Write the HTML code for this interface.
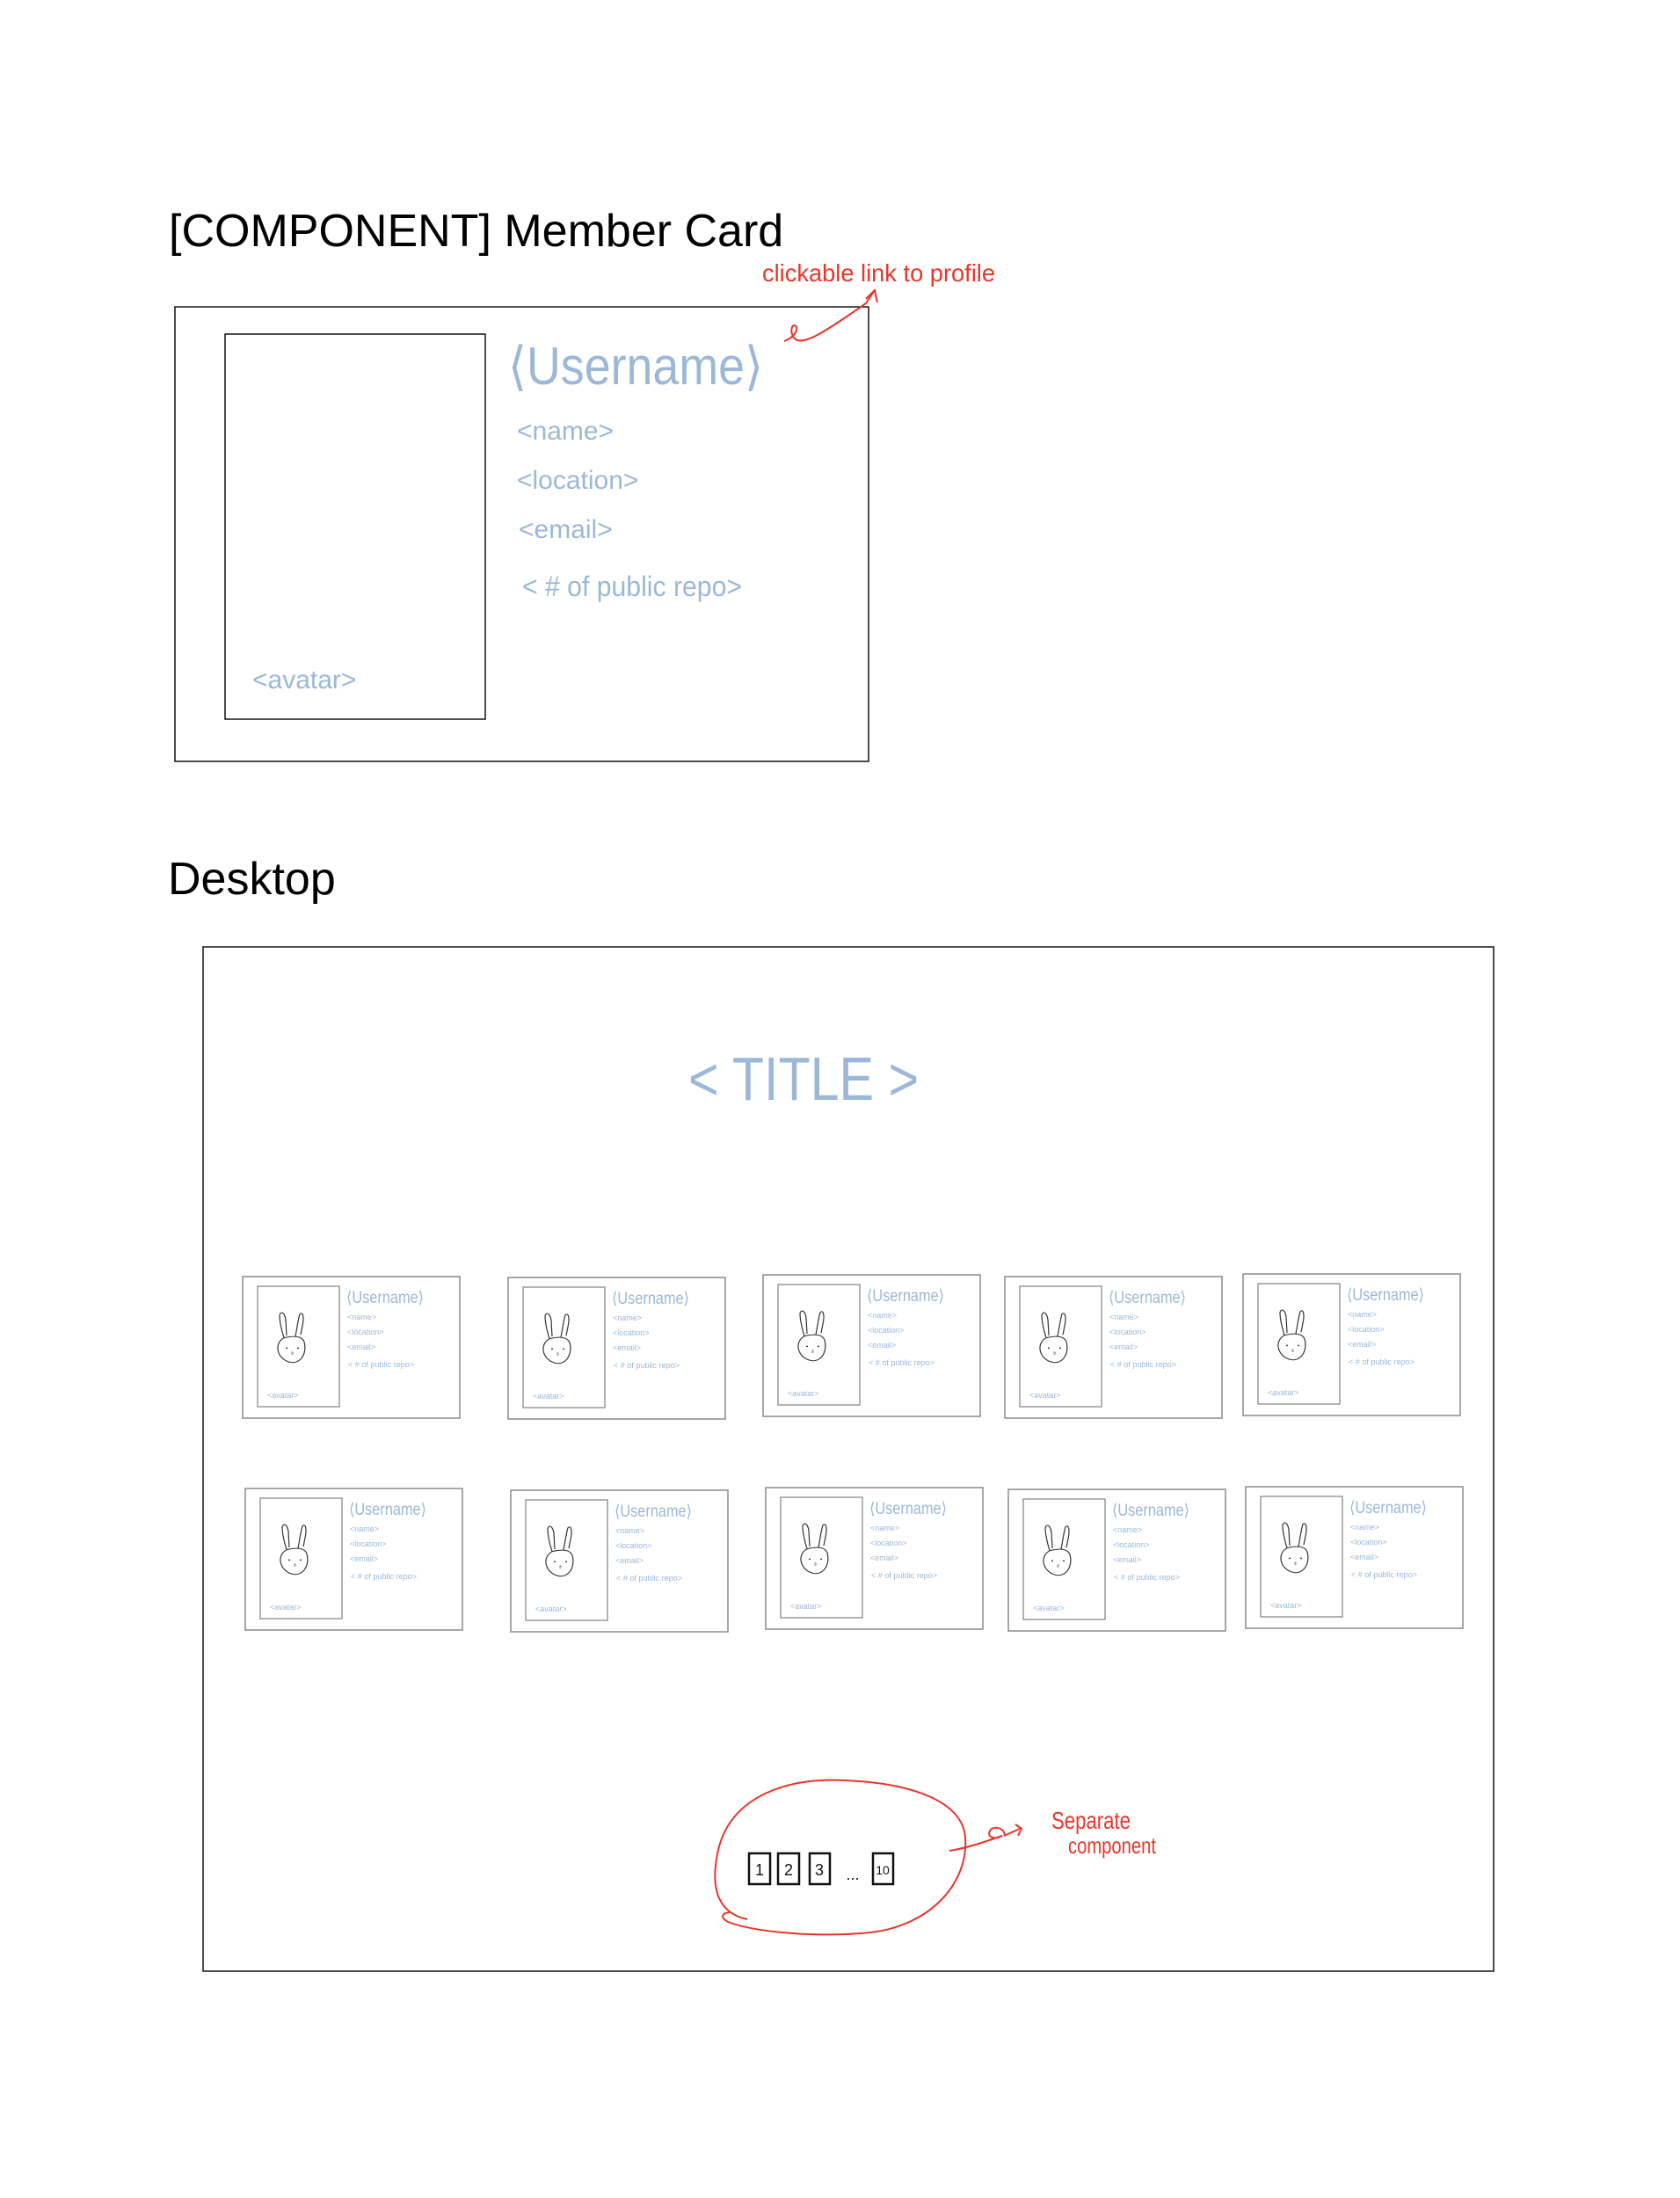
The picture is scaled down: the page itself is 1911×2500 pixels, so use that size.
<!DOCTYPE html>
<html><head><meta charset="utf-8"><style>
html,body{margin:0;padding:0;background:#fff;}
svg{display:block;}
.h{font-family:"Liberation Sans Narrow","Liberation Sans",sans-serif;fill:#9bb8d8;}
.r{font-family:"Liberation Sans Narrow","Liberation Sans",sans-serif;fill:#e8362a;}
</style></head><body>
<svg width="1911" height="2500" viewBox="0 0 1911 2500" xmlns="http://www.w3.org/2000/svg">
<defs>
<g id="card">
  <rect x="0" y="0" width="247" height="161" fill="#fff" stroke="#8a8a8a" stroke-width="1.5"/>
  <rect x="17" y="11" width="93" height="137" fill="none" stroke="#8a8a8a" stroke-width="1.3"/>
  <text x="118" y="30" class="h" font-size="19" textLength="88" lengthAdjust="spacingAndGlyphs">⟨Username⟩</text>
  <text x="119" y="49" class="h" font-size="9">&lt;name&gt;</text>
  <text x="119" y="66" class="h" font-size="9">&lt;location&gt;</text>
  <text x="119" y="83" class="h" font-size="9">&lt;email&gt;</text>
  <text x="120" y="103" class="h" font-size="9" textLength="75" lengthAdjust="spacingAndGlyphs">&lt; # of public repo&gt;</text>
  <text x="28" y="138" class="h" font-size="9">&lt;avatar&gt;</text>
  <g transform="translate(0,-5) scale(1,0.9)">
  <path d="M47,83 C44,72 42,60 42,54 C44,48 48,52 49,60 L50,80 M60,81 C62,70 63,60 65,53 C69,49 70,58 68,68 L66,79 M47,83 C39,88 38,98 43,106 C48,113 56,116 62,113 C71,108 72,96 70,88 C68,82 62,79 47,83 Z" fill="none" stroke="#333" stroke-width="1.2"/>
  <circle cx="50" cy="96" r="1" fill="#222"/><circle cx="63" cy="96" r="1" fill="#222"/>
  <text x="55" y="104" font-size="6" font-family="Liberation Sans" fill="#222">ɜ</text>
  </g>
</g>
</defs>

<text x="192" y="280" font-family="Liberation Sans,sans-serif" font-size="52" fill="#000">[COMPONENT] Member Card</text>

<rect x="199" y="349" width="789" height="517" fill="none" stroke="#111" stroke-width="1.5"/>
<rect x="256" y="380" width="296" height="438" fill="none" stroke="#111" stroke-width="1.5"/>
<text x="578" y="437" class="h" font-size="60" textLength="290" lengthAdjust="spacingAndGlyphs">⟨Username⟩</text>
<text x="588" y="500" class="h" font-size="30">&lt;name&gt;</text>
<text x="588" y="556" class="h" font-size="30">&lt;location&gt;</text>
<text x="590" y="612" class="h" font-size="30">&lt;email&gt;</text>
<text x="594" y="678" class="h" font-size="32" textLength="250" lengthAdjust="spacingAndGlyphs">&lt; # of public repo&gt;</text>
<text x="287" y="783" class="h" font-size="30">&lt;avatar&gt;</text>

<text x="867" y="320" class="r" font-size="28" textLength="265" lengthAdjust="spacingAndGlyphs">clickable  link  to  profile</text>
<path d="M892,388 C900,385 908,378 906,372 C902,365 896,378 905,386 C915,392 935,380 985,345 L995,330 M985,340 L995,330 L998,344" fill="none" stroke="#e8362a" stroke-width="2"/>

<text x="191" y="1017" font-family="Liberation Sans,sans-serif" font-size="52" fill="#000">Desktop</text>

<rect x="231" y="1077" width="1468" height="1165" fill="none" stroke="#111" stroke-width="1.5"/>
<text x="783" y="1251" class="h" font-size="70" textLength="262" lengthAdjust="spacingAndGlyphs">&lt; TITLE &gt;</text>

<use href="#card" x="276" y="1452"/>
<use href="#card" x="578" y="1453"/>
<use href="#card" x="868" y="1450"/>
<use href="#card" x="1143" y="1452"/>
<use href="#card" x="1414" y="1449"/>
<use href="#card" x="279" y="1693"/>
<use href="#card" x="581" y="1695"/>
<use href="#card" x="871" y="1692"/>
<use href="#card" x="1147" y="1694"/>
<use href="#card" x="1417" y="1691"/>

<path d="M850,2183 C812,2175 808,2140 818,2100 C835,2040 900,2022 960,2025 C1040,2028 1095,2050 1098,2090 C1102,2140 1060,2190 990,2198 C930,2204 860,2198 828,2186 C818,2180 822,2176 830,2175" fill="none" stroke="#e8362a" stroke-width="2"/>
<path d="M1080,2105 C1100,2102 1120,2095 1140,2088 C1130,2094 1120,2088 1128,2080 C1138,2076 1145,2085 1142,2088 L1160,2080 M1155,2075 L1162,2080 L1158,2088" fill="none" stroke="#e8362a" stroke-width="2"/>
<text x="1196" y="2080" class="r" font-size="28" textLength="90" lengthAdjust="spacingAndGlyphs">Separate</text>
<text x="1215" y="2108" class="r" font-size="26" textLength="100" lengthAdjust="spacingAndGlyphs">component</text>

<g fill="none" stroke="#111" stroke-width="2.5">
<rect x="852" y="2108" width="24" height="35"/>
<rect x="885" y="2108" width="24" height="35"/>
<rect x="921" y="2108" width="23" height="35"/>
<rect x="993" y="2108" width="23" height="35"/>
</g>
<g font-family="Liberation Sans Narrow,Liberation Sans,sans-serif" font-size="18" fill="#111" text-anchor="middle">
<text x="864" y="2133">1</text><text x="897" y="2133">2</text><text x="932" y="2133">3</text>
<text x="1004" y="2132" font-size="14">10</text>
<text x="970" y="2138">...</text>
</g>
</svg>
</body></html>
